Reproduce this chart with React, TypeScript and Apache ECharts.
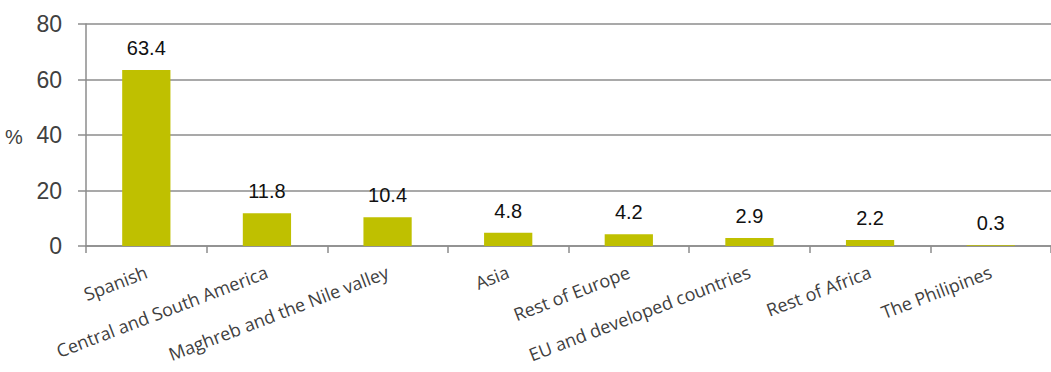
import React, { useEffect, useRef } from "react";
import * as echarts from "echarts";

const categories = [
  "Spanish",
  "Central and South America",
  "Maghreb and the Nile valley",
  "Asia",
  "Rest of Europe",
  "EU and developed countries",
  "Rest of Africa",
  "The Philipines",
];
const values = [63.4, 11.8, 10.4, 4.8, 4.2, 2.9, 2.2, 0.3];
const yTicks = [0, 20, 40, 60, 80];

export default function App() {
  const ref = useRef<HTMLDivElement>(null);
  useEffect(() => {
    document.body.style.margin = "0";
    const chart = echarts.init(ref.current!, null, { renderer: "svg" });
    chart.setOption({
      animation: false,
      grid: { left: 86, right: 0, top: 24, bottom: 126, containLabel: false },
      graphic: [
        {
          type: "text",
          left: 5,
          top: 127,
          style: { text: "%", font: "20px 'Liberation Sans'", fill: "#404040" },
        },
      ],
      xAxis: {
        type: "category",
        data: categories,
        axisLine: { lineStyle: { color: "#8c8c8c", width: 1.5 } },
        axisTick: { show: true, length: 7, lineStyle: { color: "#8c8c8c", width: 1.5 } },
        axisLabel: {
          interval: 0,
          rotate: 21,
          margin: 25,
          color: "#404040",
          fontFamily: "Open Sans",
          fontSize: 18,
        },
      },
      yAxis: {
        type: "value",
        min: yTicks[0],
        max: yTicks[yTicks.length - 1],
        interval: 20,
        axisLine: { show: true, lineStyle: { color: "#8c8c8c", width: 1.5 } },
        axisTick: { show: true, length: 8, lineStyle: { color: "#8c8c8c", width: 1.5 } },
        splitLine: { show: true, lineStyle: { color: "#8c8c8c", width: 1.5 } },
        axisLabel: {
          margin: 24,
          color: "#404040",
          fontFamily: "Liberation Sans",
          fontSize: 23,
        },
      },
      series: [
        {
          type: "bar",
          data: values,
          barWidth: "40%",
          itemStyle: { color: "#BFC000" },
          label: {
            show: true,
            position: "top",
            distance: 12,
            color: "#111",
            fontFamily: "Liberation Sans",
            fontSize: 20,
            formatter: (p: any) => p.value.toFixed(1),
          },
        },
      ],
    });
    return () => chart.dispose();
  }, []);
  return <div ref={ref} style={{ width: 1051, height: 372 }} />;
}
